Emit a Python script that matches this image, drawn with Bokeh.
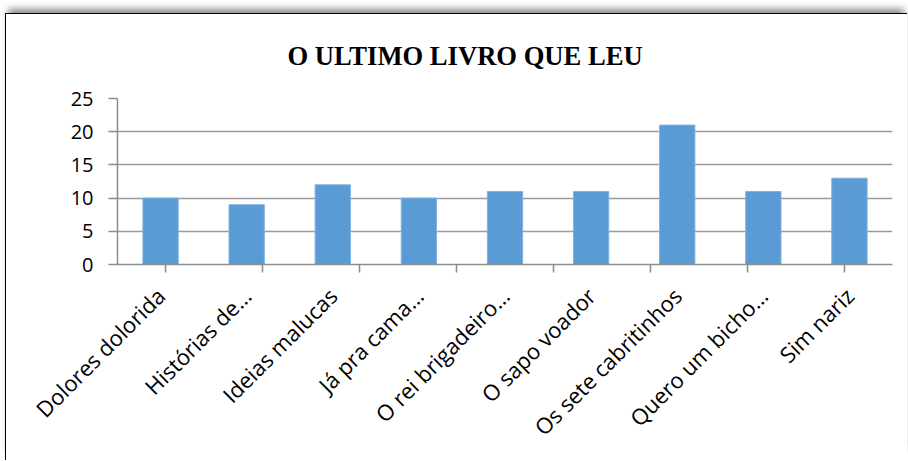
from bokeh.plotting import figure
from bokeh.models import (FactorRange, Range1d, CategoricalAxis,
                          FixedTicker, ColumnDataSource)
from bokeh.embed import file_html
from bokeh.resources import INLINE
import math

title_text = "O ULTIMO LIVRO QUE LEU"
categories = ["Dolores dolorida", "Histórias de…", "Ideias malucas", "Já pra cama…",
              "O rei brigadeiro…", "O sapo voador", "Os sete cabritinhos",
              "Quero um bicho…", "Sim nariz"]
values = [10, 9, 12, 10, 11, 11, 21, 11, 13]
y_ticks = [0, 5, 10, 15, 20, 25]

src = ColumnDataSource(dict(cat=categories, val=values))

p = figure(width=902, height=447, output_backend="svg", toolbar_location=None,
           x_range=FactorRange(*categories, range_padding=0),
           y_range=Range1d(0, 25), x_axis_location=None,
           min_border_left=111, min_border_right=16, min_border_top=84,
           min_border_bottom=197)
p.styles = {"border-left": "1px solid #000", "border-top": "1px solid #000",
            "margin-left": "5px", "margin-top": "13px",
            "box-shadow": "0 -7px 7px -3px #888"}

p.title.text = title_text
p.title.align = "left"
p.title.vertical_align = "top"
p.title.offset = 170
p.title.standoff = 52
p.title.text_font = "Liberation Serif"
p.title.text_font_size = "26.6px"
p.title.text_font_style = "bold"
p.title.text_color = "#000000"

p.vbar(x="cat", top="val", width=0.41, source=src, fill_color="#5B9BD5",
       line_color="#7FB2E0", line_width=1)

# y axis
ya = p.yaxis[0]
ya.ticker = FixedTicker(ticks=y_ticks)
ya.major_tick_out = 9
ya.major_tick_in = 0
ya.minor_tick_line_color = None
ya.axis_line_color = "#8c8c8c"
ya.axis_line_width = 1.5
ya.major_tick_line_color = "#8c8c8c"
ya.major_tick_line_width = 1.5
ya.major_label_text_font = "Open Sans"
ya.major_label_text_font_size = "20px"
ya.major_label_text_color = "#000000"
ya.major_label_standoff = 15

p.ygrid.ticker = FixedTicker(ticks=y_ticks)
p.ygrid.grid_line_color = "#9a9a9a"
p.ygrid.grid_line_width = 1.5
p.xgrid.grid_line_color = None
p.outline_line_color = None

# boundary tick axis: factors whose centres fall on category boundaries
bnd_factors = ["b%d" % i for i in range(len(categories) + 1)]
p.extra_x_ranges = {"bnd": FactorRange(*bnd_factors, range_padding=-1,
                                       range_padding_units="absolute")}
ta = CategoricalAxis(x_range_name="bnd")
ta.major_tick_out = 8
ta.major_tick_in = 0
ta.minor_tick_line_color = None
ta.axis_line_color = "#8c8c8c"
ta.axis_line_width = 1.5
ta.major_tick_line_color = "#8c8c8c"
ta.major_tick_line_width = 1.5
ta.major_label_text_font_size = "0px"
ta.major_label_text_alpha = 0
ta.major_label_standoff = 0
p.add_layout(ta, "below")

ca = CategoricalAxis()
ca.axis_line_color = None
ca.major_tick_line_color = None
ca.minor_tick_line_color = None
ca.major_label_orientation = math.pi / 4
ca.major_label_text_font = "Open Sans"
ca.major_label_text_font_size = "22px"
ca.major_label_text_color = "#000000"
ca.major_label_standoff = 13
p.add_layout(ca, "below")

open("out.html", "w").write(file_html(p, INLINE))
